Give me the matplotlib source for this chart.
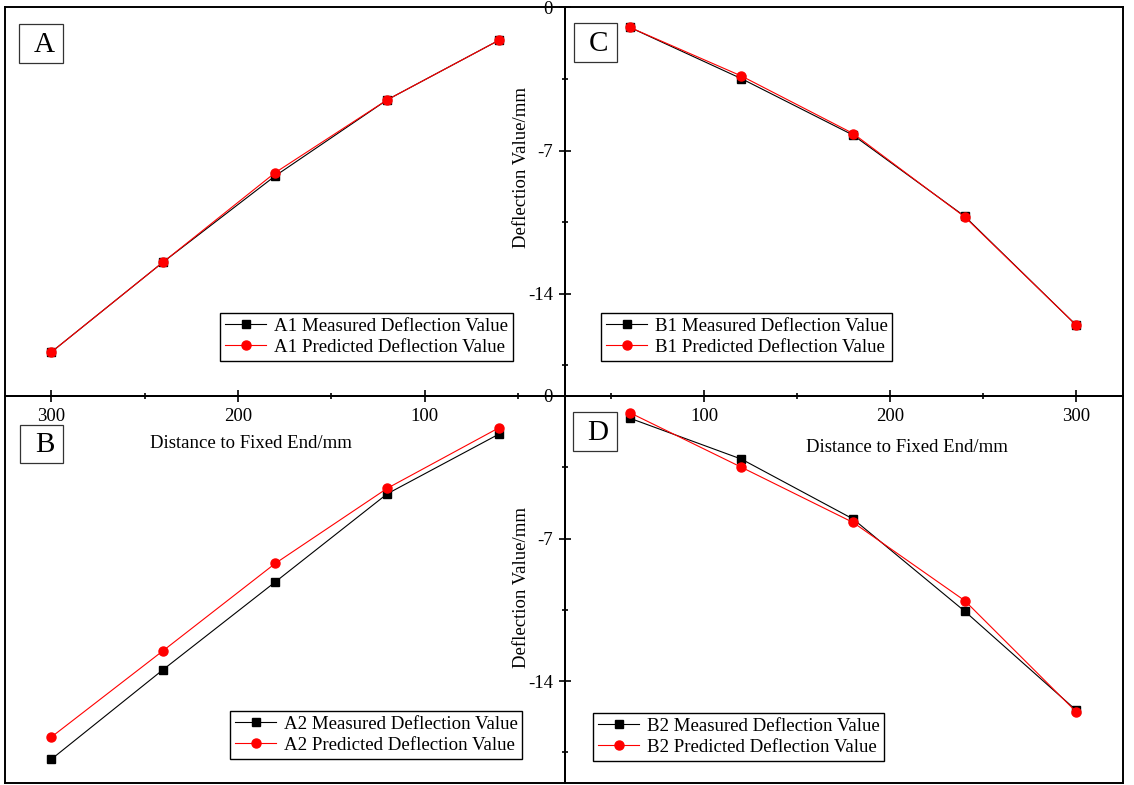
import matplotlib
matplotlib.use("Agg")
import matplotlib.pyplot as plt
from matplotlib.patches import Rectangle
from matplotlib.ticker import FixedLocator

plt.rcParams['font.family'] = ['Liberation Serif', 'DejaVu Serif']
plt.rcParams['font.size'] = 13
plt.rcParams['axes.unicode_minus'] = False

# distance to the fixed end (mm)
distance = [60, 120, 180, 240, 300]

# deflection values (mm)
a1_measured = [-1.60, -4.52, -8.24, -12.45, -16.86]
a1_predicted = [-1.60, -4.52, -8.08, -12.45, -16.86]
a2_measured = [-1.86, -4.80, -9.13, -13.43, -17.84]
a2_predicted = [-1.55, -4.53, -8.22, -12.50, -16.75]
b1_measured = [-0.98, -3.49, -6.25, -10.22, -15.55]
b1_predicted = [-0.98, -3.36, -6.17, -10.25, -15.55]
b2_measured = [-1.09, -3.10, -6.04, -10.57, -15.44]
b2_predicted = [-0.82, -3.50, -6.21, -10.05, -15.52]

x_major = [100, 200, 300]
x_minor = [50, 150, 250]
y_major = [-14, -7, 0]
y_minor = [-17.5, -10.5, -3.5]

W, H = 1134, 785


def fig_rect(x0, y0, x1, y1):
    """Pixel box (top-left origin) -> figure fraction rect."""
    return [x0 / W, 1 - y1 / H, (x1 - x0) / W, (y1 - y0) / H]


fig = plt.figure(figsize=(W / 100, H / 100), dpi=100)

ax_a = fig.add_axes(fig_rect(4.5, 7.3, 564.7, 396))
ax_c = fig.add_axes(fig_rect(564.7, 7.3, 1123, 396))
ax_b = fig.add_axes(fig_rect(4.5, 396, 564.7, 783))
ax_d = fig.add_axes(fig_rect(564.7, 396, 1123, 783))

panels = [
    (ax_a, "A1", a1_measured, a1_predicted, (325, 25), (220, 313)),
    (ax_b, "A2", a2_measured, a2_predicted, (325, 25), (230, 711)),
    (ax_c, "B1", b1_measured, b1_predicted, (25, 325), (601, 313)),
    (ax_d, "B2", b2_measured, b2_predicted, (25, 325), (593, 713)),
]

for ax, name, meas, pred, xlim, leg_pos in panels:
    ax.patch.set_visible(False)
    ax.set_xlim(*xlim)
    ax.set_ylim(-19, 0)
    for sp in ax.spines.values():
        sp.set_linewidth(1.4)
    ax.xaxis.set_major_locator(FixedLocator(x_major))
    ax.xaxis.set_minor_locator(FixedLocator(x_minor))
    ax.yaxis.set_major_locator(FixedLocator(y_major))
    ax.yaxis.set_minor_locator(FixedLocator(y_minor))
    ax.tick_params(which='both', bottom=False, top=False, left=False, right=False,
                   labelbottom=False, labelleft=False)
    ax.plot(distance, meas, color='black', lw=0.8, marker='s', ms=6,
            label=f"{name} Measured Deflection Value")
    ax.plot(distance, pred, color='red', lw=0.8, marker='o', ms=6.5,
            label=f"{name} Predicted Deflection Value")
    leg = ax.legend(loc='upper left', bbox_to_anchor=(leg_pos[0] / W, 1 - leg_pos[1] / H),
                    bbox_transform=fig.transFigure, borderaxespad=0, fancybox=False,
                    edgecolor='black', framealpha=1, handlelength=2.2, handletextpad=0.4,
                    borderpad=0.25, labelspacing=0.2, numpoints=1, fontsize=13.6)
    leg.get_frame().set_linewidth(1.0)

# shared central axes: ticks cross the lines
for ax in (ax_a, ax_c):
    ax.tick_params(axis='x', which='both', bottom=True, labelbottom=True,
                   direction='inout', width=1.2, pad=4, labelsize=13.5)
    ax.tick_params(axis='x', which='major', length=9)
    ax.tick_params(axis='x', which='minor', length=5)
for ax in (ax_c, ax_d):
    ax.tick_params(axis='y', which='both', left=True, labelleft=True,
                   direction='inout', width=1.2, pad=4, labelsize=13.5)
    ax.tick_params(axis='y', which='major', length=9)
    ax.tick_params(axis='y', which='minor', length=5)

# axis labels
for ax, (lx, ly) in ((ax_a, (251, 444)), (ax_c, (907, 448))):
    ax.set_xlabel("Distance to Fixed End/mm", fontsize=13.5)
    pos = ax.get_position()
    ax.xaxis.set_label_coords((lx / W - pos.x0) / pos.width, ((1 - ly / H) - pos.y0) / pos.height)
    ax.xaxis.label.set_verticalalignment('center')

for ax, (lx, ly) in ((ax_c, (521, 168)), (ax_d, (521, 588))):
    ax.set_ylabel("Deflection Value/mm", fontsize=13.5)
    pos = ax.get_position()
    ax.yaxis.set_label_coords((lx / W - pos.x0) / pos.width, ((1 - ly / H) - pos.y0) / pos.height)
    ax.yaxis.label.set_verticalalignment('center')

# panel letters in boxes
boxes = {"A": (19, 24, 63, 63), "B": (20, 425, 63, 463),
         "C": (574, 23, 617, 62), "D": (573, 412, 617, 451)}
for letter, (x0, y0, x1, y1) in boxes.items():
    r = fig_rect(x0, y0, x1, y1)
    fig.add_artist(Rectangle((r[0], r[1]), r[2], r[3], transform=fig.transFigure,
                             fill=False, edgecolor='#333333', lw=0.9))
    fig.text(((x0 + x1) / 2 + 3) / W, 1 - ((y0 + y1) / 2 + 1.5) / H, letter,
             fontsize=21, ha='center', va='center')

fig.savefig("out.png", dpi=100)
